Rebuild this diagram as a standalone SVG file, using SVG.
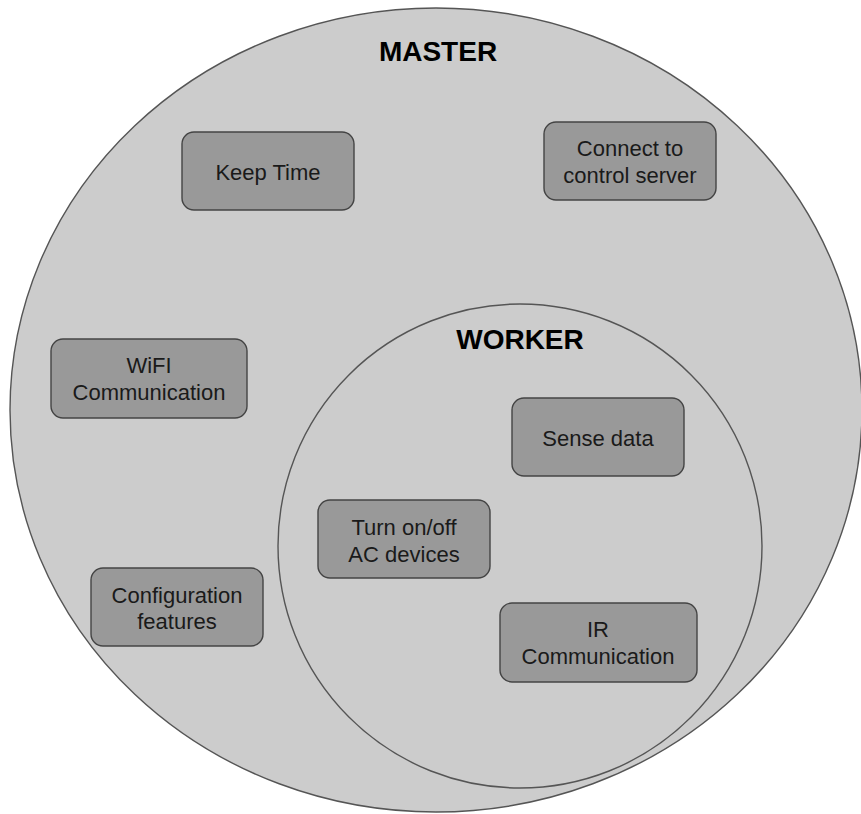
<svg xmlns="http://www.w3.org/2000/svg" width="861" height="814" viewBox="0 0 861 814">
<style>
.zone{fill:#cccccc;stroke:#555555;stroke-width:1.4}
.box{fill:#999999;stroke:#444444;stroke-width:1.4}
.t{font-family:"Liberation Sans",Arial,sans-serif;font-size:22px;fill:#1a1a1a;text-anchor:middle}
.h{font-family:"Liberation Sans",Arial,sans-serif;font-size:28px;font-weight:bold;fill:#000000;text-anchor:middle}
</style>
<rect width="861" height="814" fill="#ffffff"/>
<g id="master">
<ellipse class="zone" cx="436" cy="410" rx="426" ry="402"/>
<text class="h" x="438" y="61">MASTER</text>
</g>
<g id="worker">
<ellipse class="zone" cx="520" cy="546" rx="242" ry="242"/>
<text class="h" x="520" y="349">WORKER</text>
</g>
<g id="keep-time">
<rect class="box" x="182" y="132" width="172" height="78" rx="12"/>
<text class="t" x="268" y="180">Keep Time</text>
</g>
<g id="connect-server">
<rect class="box" x="544" y="122" width="172" height="78" rx="12"/>
<text class="t" x="630" y="156">Connect to</text>
<text class="t" x="630" y="183">control server</text>
</g>
<g id="wifi">
<rect class="box" x="51" y="339" width="196" height="79" rx="12"/>
<text class="t" x="149" y="373">WiFI</text>
<text class="t" x="149" y="400">Communication</text>
</g>
<g id="config">
<rect class="box" x="91" y="568" width="172" height="78" rx="12"/>
<text class="t" x="177" y="603">Configuration</text>
<text class="t" x="177" y="629">features</text>
</g>
<g id="sense-data">
<rect class="box" x="512" y="398" width="172" height="78" rx="12"/>
<text class="t" x="598" y="446">Sense data</text>
</g>
<g id="turn-on-off">
<rect class="box" x="318" y="500" width="172" height="78" rx="12"/>
<text class="t" x="404" y="535">Turn on/off</text>
<text class="t" x="404" y="562">AC devices</text>
</g>
<g id="ir">
<rect class="box" x="500" y="603" width="197" height="79" rx="12"/>
<text class="t" x="598" y="637">IR</text>
<text class="t" x="598" y="664">Communication</text>
</g>
<g id="connectors"></g>
</svg>
